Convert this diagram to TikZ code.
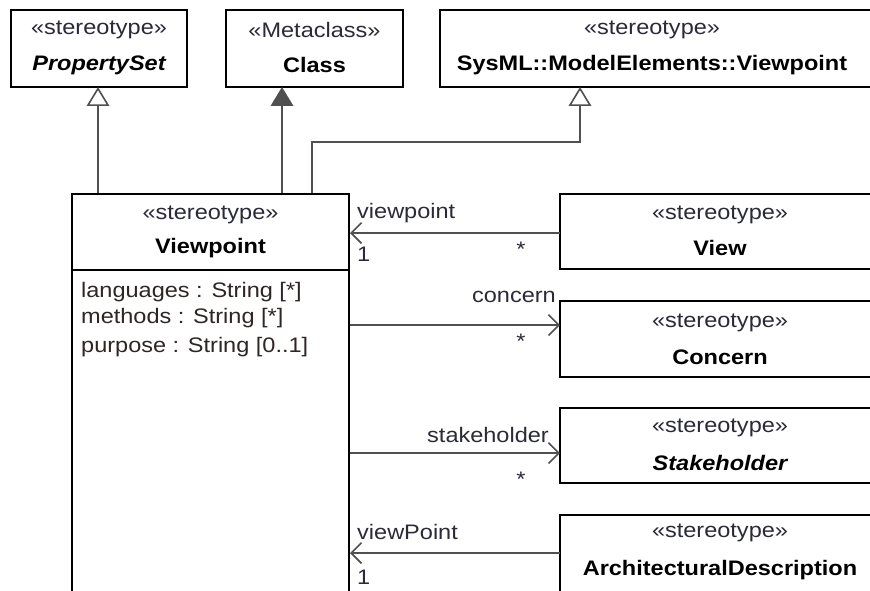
\documentclass[tikz,border=0pt]{standalone}
\usepackage{fontspec}
\setmainfont[FakeStretch=1.12]{Liberation Sans}
\usetikzlibrary{arrows.meta, positioning, calc}
\definecolor{umlline}{HTML}{505050}
\definecolor{umlster}{HTML}{2A2A38}
\definecolor{umlattr}{HTML}{2E2624}

\tikzset{
  umlbox/.style={draw=black, line width=2pt, fill=white, inner sep=0pt},
  ster/.style={font=\fontsize{21}{24}\selectfont, text=umlster, inner sep=0pt},
  cname/.style={font=\fontsize{21}{24}\selectfont\bfseries, inner sep=0pt},
  aname/.style={font=\fontsize{21}{24}\selectfont\bfseries\itshape, inner sep=0pt},
  attr/.style={font=\fontsize{21}{24}\selectfont, text=umlattr, anchor=west, inner sep=0pt},
  lbl/.style={font=\fontsize{21}{24}\selectfont, text=umlster, inner sep=0pt},
  gen/.style={draw=umlline, line width=1.8pt,
    -{Triangle[open, length=16pt, width=19pt, line width=1.6pt, scale=1.18]}},
  genfill/.style={draw=umlline, line width=1.8pt,
    -{Triangle[length=16pt, width=19pt, scale=1.18]}},
  assoc/.style={draw=umlline, line width=1.8pt,
    -{Straight Barb[length=8pt, width=16pt, line width=1.6pt, scale=1.3]}},
}

\begin{document}
\begin{tikzpicture}[x=1pt, y=-1pt]
  \useasboundingbox (0,0) rectangle (870,590);
  \clip (0,0) rectangle (870,590);

  %% --- top row: metaclass and stereotypes ---
  \node[umlbox, minimum width=176pt, minimum height=77pt] (pset) at (99,48.5) {};
  \node[ster]  at (99,30) {«stereotype»};
  \node[aname] at (99,65) {PropertySet};

  \node[umlbox, minimum width=177pt, minimum height=77pt] (cls) at (314.5,48.5) {};
  \node[ster]  at (314.5,30) {«Metaclass»};
  \node[cname] at (314.5,65) {Class};

  \node[umlbox, minimum width=436pt, minimum height=77pt] (sysvp) at (658,48.5) {};
  \node[ster]  at (652,30) {«stereotype»};
  \node[cname] at (652,65) {SysML::ModelElements::Viewpoint};

  %% --- Viewpoint with its attributes ---
  \node[umlbox, minimum width=277pt, minimum height=412pt] (vp) at (210.5,400) {};
  \draw[line width=2pt] (vp.west |- 0,270) coordinate (vpdiv) -- (vp.east |- vpdiv);
  \node[ster]  at (210.5,215) {«stereotype»};
  \node[cname] at (210.5,248) {Viewpoint};
  \node[attr] (a1) at (81,292) {languages : String [*]};
  \node[attr] (a2) at (81,318) {methods : String [*]};
  \node[attr] (a3) at (81,347) {purpose : String [0..1]};

  %% --- right column ---
  \node[umlbox, minimum width=316pt, minimum height=75pt] (view) at (718,231.5) {};
  \node[ster]  at (720,215) {«stereotype»};
  \node[cname] at (720,248) {View};

  \node[umlbox, minimum width=316pt, minimum height=76pt] (concern) at (718,339) {};
  \node[ster]  at (720,323) {«stereotype»};
  \node[cname] at (720,357) {Concern};

  \node[umlbox, minimum width=316pt, minimum height=75pt] (stake) at (718,445.5) {};
  \node[ster]  at (720,428) {«stereotype»};
  \node[aname] at (720,463) {Stakeholder};

  \node[umlbox, minimum width=316pt, minimum height=90pt] (archd) at (718,560) {};
  \node[ster]  at (720,533) {«stereotype»};
  \node[cname] at (720,570) {ArchitecturalDescription};

  %% --- generalizations / extension ---
  \coordinate (psarr) at (98,87);
  \coordinate (clarr) at (282,87);
  \coordinate (svarr) at (580,87);
  \coordinate (svbend) at (312,142);
  \draw[gen] (vp.north -| psarr) -- (psarr);
  \draw[genfill] (vp.north -| clarr) -- (clarr);
  \draw[gen] (vp.north -| svbend) -- (svbend) -- (svbend -| svarr) -- (svarr);

  %% --- associations ---
  \coordinate (rview) at (560,233);
  \coordinate (rconc) at (560,325);
  \coordinate (rstak) at (560,453);
  \coordinate (rarch) at (560,553);
  \draw[assoc] (rview) -- (rview -| vp.east);
  \draw[assoc] (rconc -| vp.east) -- (rconc);
  \draw[assoc] (rstak -| vp.east) -- (rstak);
  \draw[assoc] (rarch) -- (rarch -| vp.east);

  %% role names and multiplicities
  \node[lbl, anchor=west] at (357,213) {viewpoint};
  \node[lbl, anchor=west] at (357,254) {1};
  \node[lbl] at (521,249) {*};
  \node[lbl, anchor=east] at (556,297) {concern};
  \node[lbl] at (521,341) {*};
  \node[lbl, anchor=east] at (549,435) {stakeholder};
  \node[lbl] at (521,479) {*};
  \node[lbl, anchor=west] at (357,532) {viewPoint};
  \node[lbl, anchor=west] at (357,577) {1};
\end{tikzpicture}
\end{document}
